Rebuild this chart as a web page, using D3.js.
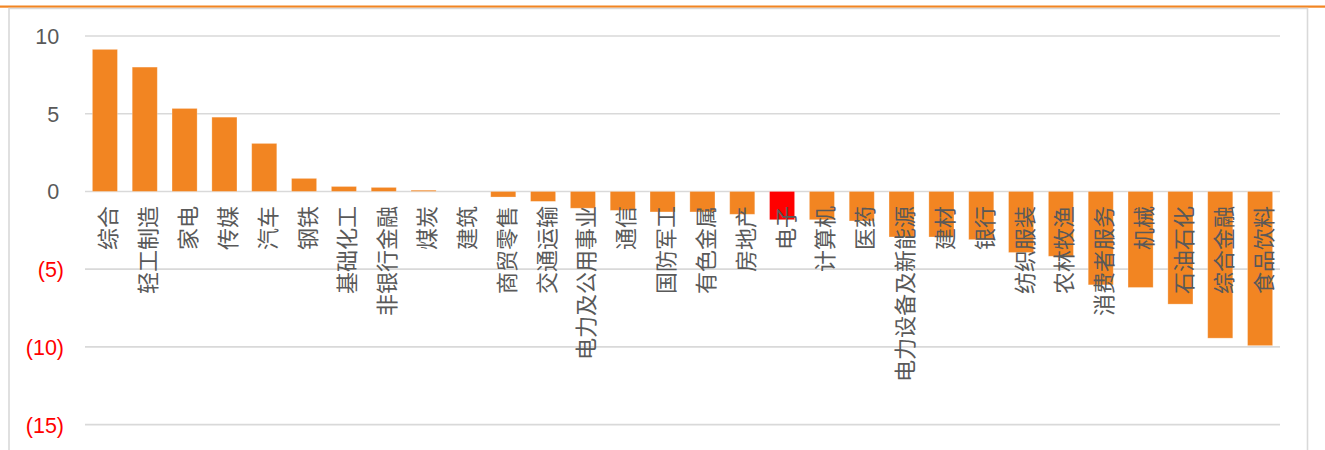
<!DOCTYPE html>
<html>
<head>
<meta charset="utf-8">
<script src="https://cdn.jsdelivr.net/npm/d3@7"></script>
<style>
  html, body { margin: 0; padding: 0; background: #ffffff; }
  svg { display: block; }
</style>
</head>
<body>
<svg id="chart" width="1325" height="450"></svg>
<script>
// Industry returns (%), sorted high to low
const categories = ["综合","轻工制造","家电","传媒","汽车","钢铁","基础化工","非银行金融","煤炭","建筑",
  "商贸零售","交通运输","电力及公用事业","通信","国防军工","有色金属","房地产","电子","计算机","医药",
  "电力设备及新能源","建材","银行","纺织服装","农林牧渔","消费者服务","机械","石油石化","综合金融","食品饮料"];
const values = [9.14, 8.0, 5.34, 4.78, 3.09, 0.84, 0.32, 0.26, 0.08, 0.0,
  -0.36, -0.64, -1.08, -1.22, -1.32, -1.32, -1.47, -1.82, -1.82, -1.90,
  -2.93, -2.93, -3.10, -3.93, -4.17, -6.01, -6.18, -7.25, -9.44, -9.92];
const yTicks = [10, 5, 0, -5, -10, -15];
const highlight = "电子";

const svg = d3.select("#chart");
const W = 1325, H = 450;
const orange = "#F28522";

// accent rule across the top and the chart frame
svg.append("rect").attr("x", 0).attr("y", 5.5).attr("width", W).attr("height", 2.2).attr("fill", orange);
svg.append("path")
  .attr("d", `M9,${H + 2} L9,8.5 L1307.5,8.5 L1307.5,${H + 2}`)
  .attr("fill", "none").attr("stroke", "#D9D9D9").attr("stroke-width", 1.6);

const x = d3.scaleBand().domain(categories).range([85, 1280]).paddingInner(0.37).paddingOuter(0.185);
const y = d3.scaleLinear().domain([-15, 10]).range([424.6, 36]);

// horizontal gridlines
svg.append("g").selectAll("line").data(yTicks).join("line")
  .attr("x1", 85).attr("x2", 1280)
  .attr("y1", d => y(d)).attr("y2", d => y(d))
  .attr("stroke", "#D9D9D9").attr("stroke-width", 1.6);

// y axis labels: accounting style, negatives in red parentheses
const yAxis = d3.axisLeft(y).tickValues(yTicks).tickSize(0).tickPadding(0)
  .tickFormat(d => d < 0 ? `(${Math.abs(d)})` : `${d}`);
const gy = svg.append("g").attr("transform", "translate(64,0)").call(yAxis);
gy.select(".domain").remove();
gy.selectAll("text")
  .attr("x", d => d < 0 ? 0 : -4.8)
  .attr("dy", "0.35em")
  .attr("fill", d => d < 0 ? "#FF0000" : "#595959")
  .style("font-family", "'Liberation Sans', Arial, sans-serif")
  .style("font-size", "21.5px");

// bars
svg.append("g").selectAll("rect").data(categories).join("rect")
  .attr("x", d => x(d))
  .attr("width", x.bandwidth())
  .attr("y", (d, i) => y(Math.max(0, values[i])))
  .attr("height", (d, i) => Math.abs(y(values[i]) - y(0)))
  .attr("fill", d => d === highlight ? "#FF0000" : orange)
  .attr("stroke", "#ffffff").attr("stroke-opacity", 0.35).attr("stroke-width", 0.8);

// category labels, rotated, hanging just below the zero line
svg.append("g").selectAll("text").data(categories).join("text")
  .attr("transform", d => `translate(${x(d) + x.bandwidth() / 2 + 1.5},206) rotate(-90)`)
  .attr("text-anchor", "end")
  .attr("dominant-baseline", "central")
  .attr("fill", "#595959")
  .style("font-family", "'Noto Sans CJK SC', sans-serif")
  .style("font-size", "22px")
  .text(d => d);
</script>
</body>
</html>
